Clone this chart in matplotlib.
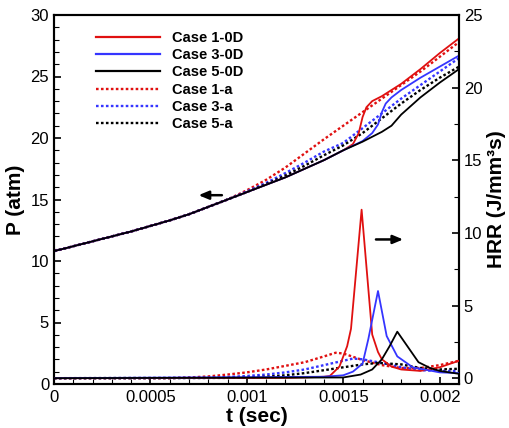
import matplotlib
matplotlib.use("Agg")
import matplotlib.pyplot as plt
from matplotlib.ticker import MultipleLocator, FixedLocator
from matplotlib.lines import Line2D

plt.rcParams['font.family'] = ['Liberation Sans', 'DejaVu Sans']

# ---------------- Pressure data (atm) ----------------
t_common = [0, 0.0001, 0.0002, 0.0003, 0.0004, 0.0005, 0.0006, 0.0007, 0.0008,
            0.0009, 0.001, 0.0011, 0.0012, 0.0013, 0.0014, 0.0015]
p_common = [10.8, 11.2, 11.6, 12.0, 12.4, 12.85, 13.3, 13.8, 14.4,
            15.0, 15.6, 16.2, 16.8, 17.5, 18.2, 19.0]

t_p1_0d = [0.00155, 0.00158, 0.0016, 0.00162, 0.00165, 0.0017, 0.0018, 0.0019, 0.002, 0.0021]
p_p1_0d = [19.5, 20.4, 21.7, 22.5, 23.0, 23.4, 24.4, 25.6, 26.9, 28.1]

t_p3_0d = [0.0016, 0.00165, 0.00168, 0.0017, 0.00172, 0.00175, 0.0018, 0.0019, 0.002, 0.0021]
p_p3_0d = [19.75, 20.4, 21.1, 22.1, 22.8, 23.3, 23.9, 24.9, 25.8, 26.7]

t_p5_0d = [0.0016, 0.0017, 0.00175, 0.0018, 0.00185, 0.0019, 0.002, 0.0021]
p_p5_0d = [19.7, 20.5, 21.0, 21.9, 22.6, 23.3, 24.5, 25.6]

t_p1_a = [0.001, 0.0011, 0.0012, 0.0013, 0.0014, 0.0015, 0.0016, 0.0017, 0.0018, 0.0019, 0.002, 0.0021]
p_p1_a = [15.75, 16.6, 17.6, 18.75, 19.9, 21.0, 22.1, 23.2, 24.3, 25.4, 26.6, 27.8]

t_p3_a = [0.001, 0.0011, 0.0012, 0.0013, 0.0014, 0.0015, 0.0016, 0.0017, 0.0018, 0.0019, 0.002, 0.0021]
p_p3_a = [15.65, 16.35, 17.15, 18.0, 18.9, 19.6, 20.8, 22.0, 23.2, 24.3, 25.4, 26.5]

t_p5_a = [0.0011, 0.0012, 0.0013, 0.0014, 0.0015, 0.0016, 0.0017, 0.0018, 0.0019, 0.002, 0.0021]
p_p5_a = [16.25, 16.95, 17.75, 18.6, 19.4, 20.4, 21.6, 22.8, 23.9, 24.9, 25.8]

# ---------------- Heat release rate data (J/mm^3 s) ----------------
t_h1_0d = [0, 0.0012, 0.0013, 0.0014, 0.00143, 0.00148, 0.00152, 0.00154, 0.001595,
           0.00165, 0.00168, 0.0017, 0.00175, 0.0018, 0.0019, 0.002, 0.0021]
h_h1_0d = [0, 0.02, 0.05, 0.1, 0.15, 0.8, 2.2, 3.4, 11.6,
           3.0, 1.8, 1.3, 0.8, 0.6, 0.5, 0.75, 1.2]

t_h3_0d = [0, 0.0014, 0.0015, 0.00155, 0.0016, 0.00163, 0.00168, 0.001725, 0.00178,
           0.00186, 0.002, 0.0021]
h_h3_0d = [0, 0.1, 0.2, 0.45, 1.0, 2.7, 6.0, 2.9, 1.5, 0.75, 0.4, 0.35]

t_h5_0d = [0, 0.0015, 0.00159, 0.00165, 0.0017, 0.00174, 0.00178, 0.00189, 0.00195, 0.002, 0.0021]
h_h5_0d = [0, 0.05, 0.25, 0.6, 1.3, 2.2, 3.2, 1.1, 0.7, 0.5, 0.3]

t_h1_a = [0, 0.0006, 0.0007, 0.0008, 0.0009, 0.001, 0.0011, 0.0012, 0.0013, 0.0014,
          0.00146, 0.0015, 0.0016, 0.0017, 0.0018, 0.0019, 0.002, 0.0021]
h_h1_a = [0, 0.0, 0.05, 0.12, 0.25, 0.4, 0.6, 0.85, 1.1, 1.5,
          1.75, 1.7, 1.25, 0.9, 0.7, 0.7, 0.9, 1.2]

t_h3_a = [0, 0.0008, 0.0009, 0.001, 0.0011, 0.0012, 0.0013, 0.0014, 0.0015, 0.00155,
          0.0016, 0.0017, 0.0018, 0.0019, 0.002, 0.0021]
h_h3_a = [0, 0.02, 0.08, 0.15, 0.25, 0.4, 0.6, 0.9, 1.2, 1.35,
          1.3, 1.05, 0.75, 0.55, 0.5, 0.5]

t_h5_a = [0, 0.0009, 0.001, 0.0011, 0.0012, 0.0013, 0.0014, 0.0015, 0.0016, 0.00168,
          0.0018, 0.0019, 0.002, 0.0021]
h_h5_a = [0, 0.02, 0.05, 0.1, 0.2, 0.35, 0.55, 0.75, 0.95, 1.05,
          0.95, 0.7, 0.6, 0.65]

labels = ['Case 1-0D', 'Case 3-0D', 'Case 5-0D', 'Case 1-a', 'Case 3-a', 'Case 5-a']
colors = ['#e01010', '#3535ff', '#000000', '#e01010', '#3535ff', '#000000']

x_ticks = [0, 0.0005, 0.001, 0.0015, 0.002]
x_ticklabels = ['0', '0.0005', '0.001', '0.0015', '0.002']

# ---------------- figure ----------------
fig = plt.figure(figsize=(5.10, 4.28), dpi=100)
ax = fig.add_axes([54/510, 1-384/428, (459-54)/510, (384-15)/428])
ax2 = ax.twinx()

solid_lw = 1.3
dot_lw = 1.7
dot_style = (0, (1.1, 1.0))

def join(tc, pc, ts, ps):
    tt = [t for t in tc if t < ts[0]] + list(ts)
    pp = [p for t, p in zip(tc, pc) if t < ts[0]] + list(ps)
    return tt, pp

p_series = [(t_p1_0d, p_p1_0d), (t_p3_0d, p_p3_0d), (t_p5_0d, p_p5_0d),
            (t_p1_a, p_p1_a), (t_p3_a, p_p3_a), (t_p5_a, p_p5_a)]
h_series = [(t_h1_0d, h_h1_0d), (t_h3_0d, h_h3_0d), (t_h5_0d, h_h5_0d),
            (t_h1_a, h_h1_a), (t_h3_a, h_h3_a), (t_h5_a, h_h5_a)]

order = [3, 4, 5, 0, 1, 2]
for i in order:
    ts, ps = p_series[i]
    tt, pp = join(t_common, p_common, ts, ps)
    if i < 3:
        ax.plot(tt, pp, color=colors[i], lw=solid_lw, zorder=3)
    else:
        ax.plot(tt, pp, color=colors[i], lw=dot_lw, linestyle=dot_style, zorder=2)

for i in order:
    ts, hs = h_series[i]
    if i < 3:
        ax2.plot(ts, hs, color=colors[i], lw=solid_lw, zorder=3)
    else:
        ax2.plot(ts, hs, color=colors[i], lw=dot_lw, linestyle=dot_style, zorder=2)

ax.set_xlim(0, 0.0021)
ax.set_ylim(0, 30)
ax2.set_ylim(-0.4, 25)

ax.xaxis.set_major_locator(FixedLocator(x_ticks))
ax.set_xticklabels(x_ticklabels)
ax.xaxis.set_minor_locator(MultipleLocator(0.0001))
ax.yaxis.set_major_locator(MultipleLocator(5))
ax.yaxis.set_minor_locator(MultipleLocator(1))
ax2.yaxis.set_major_locator(MultipleLocator(5))
ax2.yaxis.set_minor_locator(MultipleLocator(2.5))

ax.tick_params(axis='both', which='both', direction='in', labelsize=12, width=1.2,
               top=False, right=False)
ax.tick_params(which='major', length=5)
ax.tick_params(which='minor', length=3.5, width=0.8)
ax2.tick_params(axis='y', which='both', direction='in', labelsize=12, width=1.2)
ax2.tick_params(which='major', length=5)
ax2.tick_params(which='minor', length=3.5, width=0.8)
ax.tick_params(axis='x', pad=4)

for a in (ax, ax2):
    for s in a.spines.values():
        s.set_linewidth(1.5)

ax.set_xlabel('t (sec)', fontsize=15, fontweight='bold', labelpad=2)
ax.set_ylabel('P (atm)', fontsize=15, fontweight='bold', labelpad=4)
ax2.set_ylabel('HRR (J/mm\u00b3s)', fontsize=15, fontweight='bold',
               rotation=90, labelpad=3)

# arrows
ax.annotate('', xy=(0.000735, 15.35), xytext=(0.000885, 15.35),
            arrowprops=dict(arrowstyle='-|>,head_length=0.6,head_width=0.25',
                            color='black', lw=1.8))
ax2.annotate('', xy=(0.001825, 9.55), xytext=(0.001655, 9.55),
             arrowprops=dict(arrowstyle='-|>,head_length=0.6,head_width=0.25',
                             color='black', lw=1.8))

handles = []
for i in range(6):
    if i < 3:
        handles.append(Line2D([], [], color=colors[i], lw=1.6))
    else:
        handles.append(Line2D([], [], color=colors[i], lw=dot_lw, linestyle=dot_style))
leg = fig.legend(handles, labels, loc='upper left',
                 bbox_to_anchor=(96/510, 1-31/428), frameon=False,
                 prop={'weight': 'bold', 'size': 10.5}, handlelength=4.4,
                 handletextpad=0.8, labelspacing=0.22, borderpad=0, borderaxespad=0)

fig.savefig('out.png', dpi=100)
